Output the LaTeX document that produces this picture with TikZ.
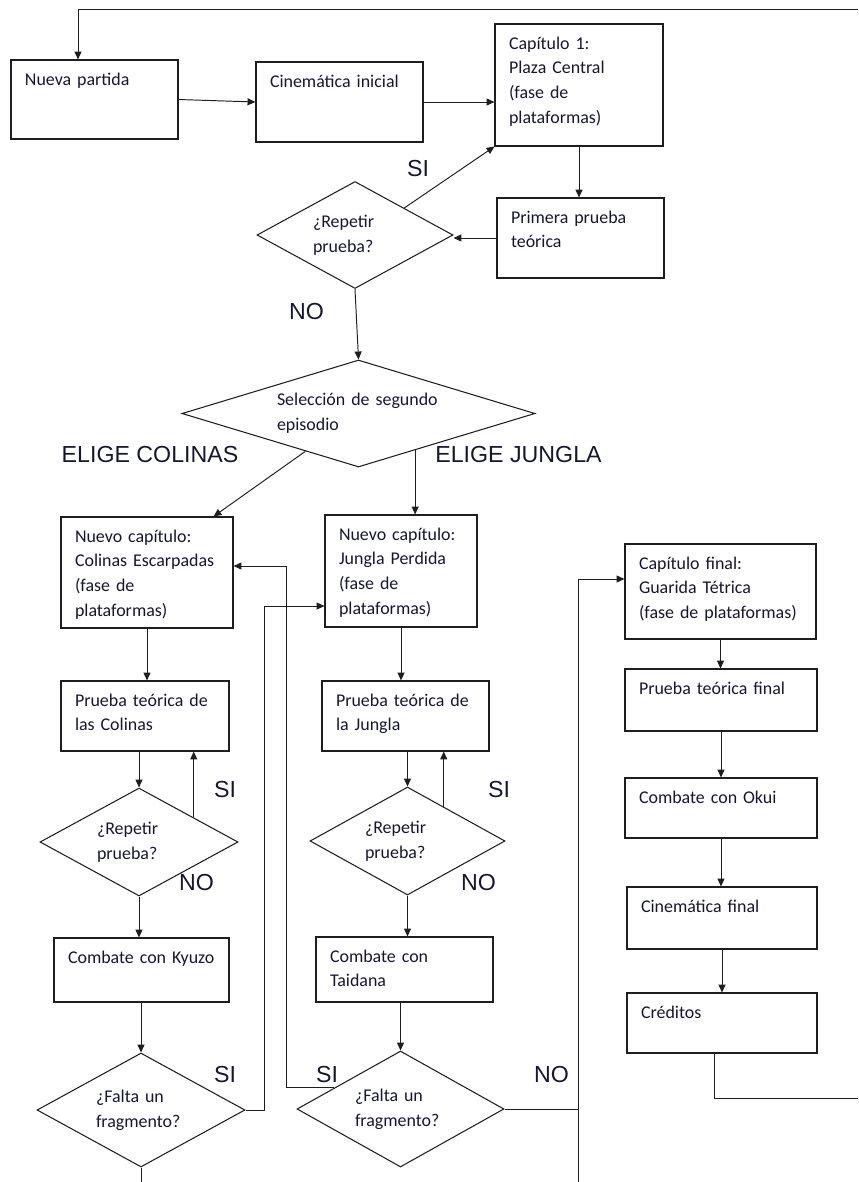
\documentclass[tikz,border=0pt]{standalone}
\usepackage{fontspec}
\setmainfont{Carlito}
\newfontfamily\labelfont{Liberation Sans}
\usepackage{xcolor}
\usepackage{tikz}
\usetikzlibrary{arrows.meta,shapes.geometric,calc}
\definecolor{clrTxt}{RGB}{22,22,50}
\definecolor{clrLine}{RGB}{30,30,30}
\newcommand{\boxfont}{\fontsize{10.2}{14.2}\selectfont}
\newcommand{\tagfont}{\labelfont\fontsize{13.2}{15}\selectfont}
\tikzset{
  proc/.style={rectangle,draw=clrLine,line width=0.6pt,font=\boxfont,text=clrTxt,
    align=left,inner xsep=0.28cm,inner ysep=0.24cm,text height=0.26cm},
  ask/.style={diamond,draw=clrLine,line width=0.6pt,font=\boxfont,text=clrTxt,
    align=left,inner sep=0pt},
  arrow/.style={-{Triangle[length=4.5pt,width=4pt]},line width=0.55pt,color=clrLine},
  link/.style={line width=0.55pt,color=clrLine},
  tag/.style={font=\tagfont,text=clrTxt,inner sep=0pt}
}

\begin{document}
\begin{tikzpicture}[x=1cm,y=1cm]
  \useasboundingbox (0,0) rectangle (17.16,-23.64);

  % first chapter
  \node[proc,text width=2.78cm,text depth=0.84cm] (start) at (1.89,-1.99) {Nueva partida};
  \node[proc,text width=2.78cm,text depth=0.86cm] (intro) at (6.79,-2.04) {Cinemática inicial};
  \node[proc,text width=2.80cm,text depth=1.70cm] (plaza) at (11.58,-1.70)
    {Capítulo 1:\\Plaza Central\\(fase de\\plataformas)};
  \node[proc,text width=2.78cm,text depth=0.86cm] (test1) at (11.61,-4.76)
    {Primera prueba\\teórica};
  \node[ask,minimum width=3.92cm,minimum height=2.14cm,shape aspect=1.83,
    text width=1.68cm] (again1) at (7.10,-4.70) {¿Repetir\\prueba?};
  \node[ask,minimum width=7.06cm,minimum height=2.14cm,shape aspect=3.3,
    text width=3.26cm] (choice) at (7.17,-8.27) {Selección de segundo\\episodio};

  % hills
  \node[proc,text width=2.88cm,text depth=1.48cm] (hills) at (2.94,-11.45)
    {Nuevo capítulo:\\Colinas Escarpadas\\(fase de\\plataformas)};
  \node[proc,text width=2.80cm,text depth=0.66cm] (hillstest) at (2.90,-14.32)
    {Prueba teórica de\\las Colinas};
  \node[ask,minimum width=3.96cm,minimum height=2.16cm,shape aspect=1.83,
    text width=1.68cm] (hillsagain) at (2.78,-16.84) {¿Repetir\\prueba?};
  \node[proc,text width=2.94cm,text depth=0.54cm] (kyuzo) at (2.83,-19.40)
    {Combate con Kyuzo};
  \node[ask,minimum width=4.16cm,minimum height=2.28cm,shape aspect=1.82,
    text width=1.80cm] (hillsmiss) at (2.82,-22.20) {¿Falta un\\fragmento?};

  % jungle
  \node[proc,text width=2.48cm,text depth=1.50cm] (jungle) at (8.02,-11.42)
    {Nuevo capítulo:\\Jungla Perdida\\(fase de\\plataformas)};
  \node[proc,text width=2.78cm,text depth=0.66cm] (jungletest) at (8.11,-14.32)
    {Prueba teórica de\\la Jungla};
  \node[ask,minimum width=3.90cm,minimum height=2.16cm,shape aspect=1.8,
    text width=1.70cm] (jungleagain) at (8.15,-16.82) {¿Repetir\\prueba?};
  \node[proc,text width=2.98cm,text depth=0.56cm] (taidana) at (8.09,-19.39)
    {Combate con\\Taidana};
  \node[ask,minimum width=4.14cm,minimum height=2.32cm,shape aspect=1.78,
    text width=1.82cm] (junglemiss) at (8.01,-22.18) {¿Falta un\\fragmento?};

  % final chapter
  \node[proc,text width=3.26cm,text depth=1.16cm] (lair) at (14.41,-11.83)
    {Capítulo final:\\Guarida Tétrica\\(fase de plataformas)};
  \node[proc,text width=3.28cm,text depth=0.50cm] (lairtest) at (14.42,-14.00)
    {Prueba teórica final};
  \node[proc,text width=3.28cm,text depth=0.46cm] (okui) at (14.42,-16.16)
    {Combate con Okui};
  \node[proc,text width=3.24cm,text depth=0.50cm] (outro) at (14.44,-18.36)
    {Cinemática final};
  \node[proc,text width=3.24cm,text depth=0.46cm] (credits) at (14.44,-20.46)
    {Créditos};

  % answers
  \node[tag] (si1) at (8.36,-3.37) {SI};
  \node[tag] (no1) at (6.13,-6.24) {NO};
  \node[tag] (pickhills) at (3.00,-9.09) {ELIGE COLINAS};
  \node[tag] (pickjungle) at (10.37,-9.09) {ELIGE JUNGLA};
  \node[tag] (si2) at (4.50,-15.80) {SI};
  \node[tag] (no2) at (3.93,-17.66) {NO};
  \node[tag] (si3) at (9.98,-15.80) {SI};
  \node[tag] (no3) at (9.57,-17.66) {NO};
  \node[tag] (si4) at (4.50,-21.50) {SI};
  \node[tag] (si5) at (6.54,-21.50) {SI};
  \node[tag] (no4) at (11.03,-21.50) {NO};

  % loose ends at the edges
  \coordinate (loopin) at (17.16,-0.18);
  \coordinate (loopout) at (17.16,-21.96);
  \coordinate (hillsout) at (2.82,-23.64);
  \coordinate (lairin) at (11.56,-23.64);

  \coordinate (c1) at ($(again1.north)!0.5!(again1.east)$);
  \coordinate (c2) at ($(choice.south)!0.3!(choice.west)$);
  \coordinate (c3) at ($(choice.south)!0.32!(choice.east)$);
  \coordinate (c4) at ($(hillsagain.north)!0.55!(hillsagain.east)$);
  \coordinate (c5) at ($(jungleagain.north)!0.37!(jungleagain.east)$);
  \coordinate (c6) at ($(junglemiss.west)!0.36!(junglemiss.north)$);

  \draw[arrow] (loopin) -| ([xshift=-0.33cm]start.north);
  \draw[arrow] (start.east) -- (intro.west);
  \draw[arrow] (intro.east) -- (intro.east -| plaza.west);
  \draw[arrow] (plaza.south) -- (plaza.south |- test1.north);
  \draw[arrow] (test1.west) -- (test1.west -| again1.east);
  \draw[arrow] (c1) -- (plaza.south west);
  \draw[arrow] (again1.south) -- (choice.north);
  \draw[arrow] (c2) -- ([xshift=-0.40cm]hills.north east);
  \draw[arrow] (c3) -- (c3 |- jungle.north);

  \draw[arrow] (hills.south) -- (hills.south |- hillstest.north);
  \draw[arrow] (hillsagain.north |- hillstest.south) -- (hillsagain.north);
  \draw[arrow] (c4) -- (c4 |- hillstest.south);
  \draw[arrow] (hillsagain.south) -- (hillsagain.south |- kyuzo.north);
  \draw[arrow] (hillsmiss.north |- kyuzo.south) -- (hillsmiss.north);
  \draw[link] (hillsmiss.south) -- (hillsout);
  \draw[arrow] (hillsmiss.east) -- ++(0.38,0) |- ([yshift=-0.70cm]jungle.west);

  \draw[arrow] (jungle.south) -- (jungle.south |- jungletest.north);
  \draw[arrow] (jungleagain.north |- jungletest.south) -- (jungleagain.north);
  \draw[arrow] (c5) -- (c5 |- jungletest.south);
  \draw[arrow] (jungleagain.south) -- (jungleagain.south |- taidana.north);
  \draw[arrow] (junglemiss.north |- taidana.south) -- (junglemiss.north);
  \draw[arrow] (c6) -- ++(-0.94,0) |- ([yshift=0.13cm]hills.east);
  \draw[link] (junglemiss.east) -- (junglemiss.east -| lairin);
  \draw[arrow] (lairin) |- ([yshift=0.25cm]lair.west);

  \draw[arrow] (lair.south) -- (lair.south |- lairtest.north);
  \draw[arrow] (lairtest.south) -- (lairtest.south |- okui.north);
  \draw[arrow] (okui.south) -- (okui.south |- outro.north);
  \draw[arrow] (outro.south) -- (outro.south |- credits.north);
  \draw[link] ([xshift=-0.16cm]credits.south) |- (loopout);
\end{tikzpicture}
\end{document}
